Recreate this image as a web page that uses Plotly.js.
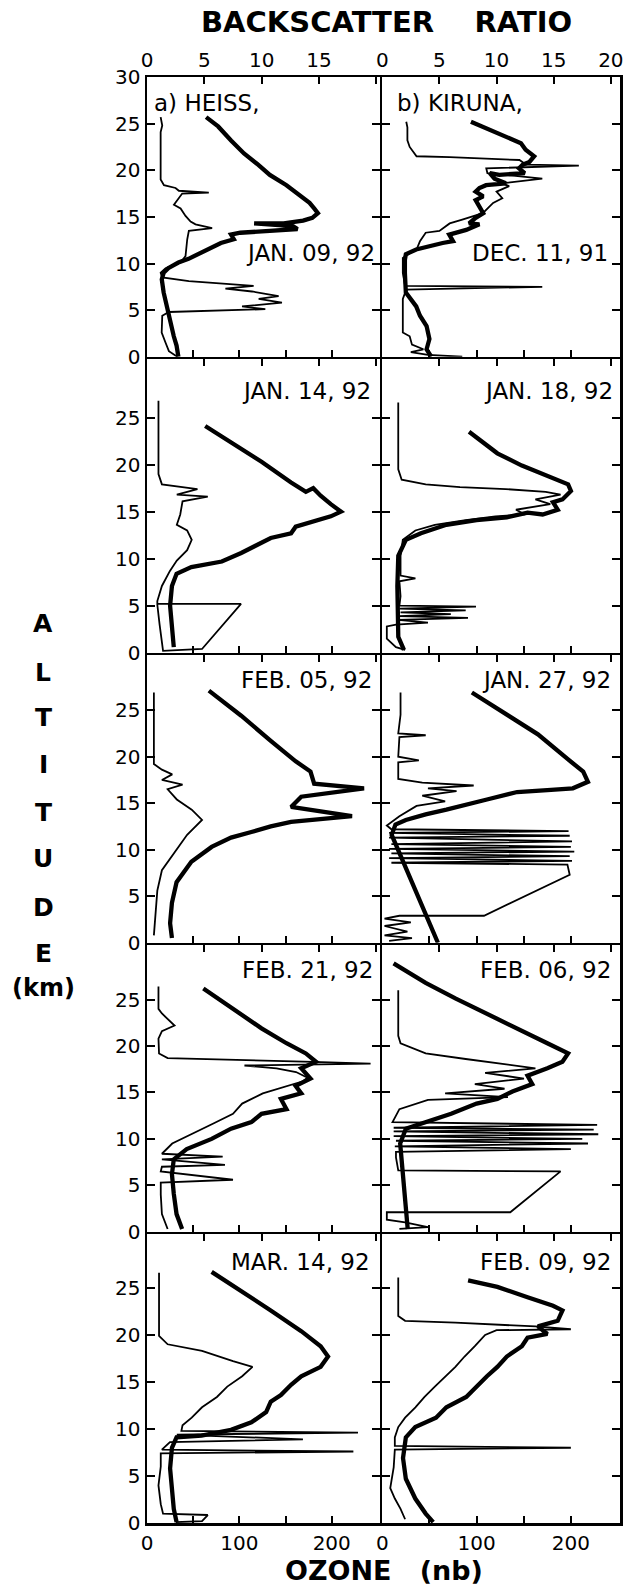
<!DOCTYPE html>
<html><head><meta charset="utf-8">
<script src="https://cdn.plot.ly/plotly-3.0.1.min.js"></script>
<style>html,body{margin:0;padding:0;background:#fff}#chart{width:637px;height:1587px}</style>
</head><body><div id="chart"></div>
<script>
// ---- DATA: [altitude km, value] pairs ----
// Ozone partial pressure (nb) profiles (thick lines)
const heissJan09Ozone = [[25.7,64],[24.7,77],[23.2,91],[21.8,105],[20.7,119],[19.5,133],[18.4,151],[17.4,165],[16.5,176],[15.9,181],[15.4,185],[14.9,179],[14.6,169],[14.3,148],[14.3,116],[14.0,158],[13.7,163],[13.5,133],[13.3,101],[13.1,91],[12.6,94],[12.2,80],[11.7,70],[11.0,55],[10.5,45],[10.1,34],[9.5,23],[9.0,18],[8.3,16],[6.9,18],[5.1,22],[3.7,25],[2.2,29],[1.2,32],[0,34]];
const kirunaDec11Ozone = [[25.2,94],[24.5,110],[23.6,131],[22.9,147],[22.2,152],[21.5,161],[20.9,156],[20.6,149],[20.2,145],[19.7,151],[19.5,124],[19.7,114],[19.1,119],[18.6,131],[18.4,110],[18.1,103],[17.7,99],[17.2,107],[16.8,99],[16.1,103],[15.4,107],[14.9,99],[14.3,92],[14.2,103],[13.6,89],[13.1,71],[12.4,75],[12.2,64],[11.9,50],[11.5,36],[11.0,25],[10.4,24],[9.0,24],[6.9,25],[5.4,36],[4.4,40],[3.3,47],[1.9,50],[0.8,47],[0,52]];
const heissJan14Ozone = [[24.1,63],[22.3,91],[20.3,124],[18.1,156],[17.1,172],[17.5,180],[16.7,188],[15.8,199],[15.0,210],[14.5,199],[13.8,177],[13.4,161],[12.7,156],[12.2,134],[11.4,118],[10.6,102],[9.7,81],[9.1,48],[8.4,32],[7.1,27],[5.0,25],[2.8,27],[0.6,29]];
const kirunaJan18Ozone = [[23.5,92],[21.2,122],[19.9,148],[19.0,170],[18.4,186],[17.9,197],[17.2,200],[16.3,191],[16.0,181],[15.2,186],[14.7,170],[14.9,154],[14.4,132],[14.1,100],[13.6,68],[12.7,41],[12.0,25],[10.3,17],[7.1,16],[3.9,16],[1.7,17],[0.3,23]];
const heissFeb05Ozone = [[27.1,67],[24.4,102],[21.7,134],[19.5,161],[18.4,177],[17.1,181],[16.6,235],[15.7,167],[14.6,156],[13.6,222],[13.0,156],[12.5,134],[11.9,113],[11.3,91],[10.3,70],[8.7,48],[6.5,32],[4.3,27],[2.1,25],[0.5,27]];
const kirunaJan27Ozone = [[26.9,95],[24.5,132],[22.4,165],[19.7,197],[18.4,213],[17.3,218],[16.6,202],[16.4,175],[16.2,143],[15.4,111],[14.8,89],[14.3,68],[13.8,46],[13.2,25],[12.7,14],[11.6,10],[0,59]];
const heissFeb21Ozone = [[26.2,61],[24.1,91],[21.9,124],[20.3,151],[19.2,172],[18.3,183],[17.6,167],[16.5,177],[15.7,161],[14.9,167],[14.3,145],[13.2,151],[12.7,124],[11.8,113],[11.1,91],[10.0,70],[8.9,43],[7.8,29],[6.2,27],[4.1,29],[1.9,32],[0.3,38]];
const kirunaFeb06Ozone = [[28.9,12],[26.8,46],[25.1,78],[23.5,111],[21.9,143],[20.3,175],[19.2,197],[18.3,191],[17.6,175],[16.8,154],[15.9,159],[15.1,138],[14.3,122],[13.8,100],[12.7,73],[11.8,46],[11.1,25],[9.5,19],[6.2,22],[3.0,25],[0.3,27]];
const heissMar14Ozone = [[26.7,70],[24.7,102],[22.6,134],[20.4,167],[18.8,188],[17.7,196],[16.6,188],[15.6,167],[14.7,156],[13.6,145],[12.9,134],[11.8,129],[10.7,113],[9.9,91],[9.3,59],[9.1,32],[8.0,27],[5.8,25],[3.7,27],[1.5,29],[0.1,32]];
const kirunaFeb09Ozone = [[25.8,91],[25.1,122],[24.0,154],[23.1,181],[22.6,191],[21.5,186],[20.9,165],[20.1,175],[19.7,154],[18.8,148],[17.7,132],[16.6,122],[15.6,111],[14.5,100],[13.4,89],[12.3,68],[11.2,57],[10.2,35],[9.1,25],[6.9,22],[4.7,25],[2.6,35],[1.0,46],[0.1,54]];

// Backscatter ratio profiles (thin lines)
const heissJan09Bsr = [[25.7,1.19],[24.8,1.33],[24.1,1.19],[19.0,1.19],[18.4,1.48],[18.1,2.49],[17.8,2.78],[17.6,5.39],[17.5,3.07],[16.7,2.64],[16.3,2.35],[15.9,2.93],[15.1,3.36],[14.5,3.8],[14.2,4.23],[13.8,5.68],[13.5,3.65],[12.6,3.51],[10.8,3.36],[10.1,2.93],[9.5,1.62],[9.0,1.19],[8.5,1.33],[8.1,3.65],[7.6,9.3],[7.3,6.84],[7.0,9.16],[6.5,11.48],[6.2,9.74],[5.8,11.77],[5.4,8.29],[5.1,10.32],[4.8,1.91],[4.4,1.33],[2.6,1.28],[1.5,1.62],[0.6,1.91],[0,2.64]];
const kirunaDec11Bsr = [[25.2,2.1],[24.6,2.2],[23.2,2.2],[22.5,2.4],[21.5,3.0],[21.4,5.9],[21.1,12.0],[20.6,12.6],[20.5,17.2],[20.3,12.3],[20.2,9.1],[19.7,9.2],[19.3,12.6],[19.1,14.0],[18.6,10.5],[18.3,11.1],[17.7,10.0],[17.0,10.5],[16.5,9.7],[15.4,8.8],[14.7,7.0],[14.3,5.9],[13.5,5.0],[13.3,3.8],[12.4,3.3],[11.5,3.0],[11.1,2.4],[10.6,1.8],[9.0,1.8],[7.6,2.0],[7.5,14.0],[7.2,2.1],[6.2,1.8],[2.6,1.8],[2.2,2.4],[1.3,2.6],[0.8,3.6],[0.5,2.5],[0.2,4.0],[0,7.0]];
const heissJan14Bsr = [[26.8,1.0],[19.0,1.0],[17.9,1.3],[17.4,4.4],[16.8,2.6],[16.6,5.3],[16.1,3.1],[14.7,2.9],[13.6,2.6],[13.0,3.5],[12.0,3.9],[10.9,3.5],[9.8,2.6],[8.7,2.0],[7.1,1.3],[5.5,0.9],[5.2,0.9],[5.2,8.2],[0.4,4.8],[0.2,1.4],[3.0,1.1],[5.1,0.9]];
const kirunaJan18Bsr = [[26.6,1.4],[19.5,1.4],[18.4,1.7],[17.9,3.8],[17.6,6.8],[17.4,10.8],[17.1,14.3],[16.8,15.6],[16.3,13.4],[15.8,14.7],[15.2,11.7],[14.7,12.5],[14.5,9.9],[14.1,7.3],[13.6,4.6],[13.0,2.9],[12.0,1.8],[10.3,1.6],[8.2,1.6],[7.9,2.9],[7.6,1.5],[6.0,1.6],[5.0,1.5],[4.9,8.2],[4.7,1.5],[4.5,7.3],[4.3,1.6],[4.1,6.0],[3.9,1.5],[3.7,7.5],[3.5,1.4],[3.2,4.0],[3.0,1.2],[2.8,0.4],[1.5,0.4],[0.6,1.2],[0.3,2.0]];
const heissFeb05Bsr = [[26.9,0.6],[19.2,0.6],[18.6,1.3],[18.1,2.2],[17.5,1.3],[17.0,3.1],[16.5,1.8],[15.4,2.6],[14.3,3.9],[13.2,4.8],[11.6,3.5],[10.0,2.6],[7.8,1.3],[5.6,0.9],[0.8,0.6]];
const kirunaJan27Bsr = [[26.9,1.6],[24.5,1.6],[22.5,1.4],[22.3,3.8],[22.1,1.5],[20.0,1.4],[19.6,3.2],[19.4,1.4],[17.6,1.4],[17.2,3.5],[16.9,8.0],[16.6,4.0],[16.3,6.5],[15.8,3.5],[15.2,5.5],[14.7,3.0],[13.6,1.5],[12.6,0.4],[12.2,0.8],[12.0,16.3],[11.8,0.6],[11.5,16.4],[11.3,0.6],[10.9,16.6],[10.6,0.8],[10.3,16.5],[10.1,0.6],[9.8,16.8],[9.6,0.8],[9.3,16.4],[9.1,0.6],[8.8,16.6],[8.6,0.8],[8.4,16.2],[7.3,16.4],[2.9,8.9],[2.9,1.5],[2.6,0.2],[2.2,2.5],[1.8,0.2],[1.2,2.2],[0.8,0.2],[0.5,2.6],[0.2,0.6]];
const heissFeb21Bsr = [[26.4,1.0],[24.0,1.0],[23.5,1.3],[22.2,2.4],[21.6,1.3],[20.8,1.0],[19.2,1.05],[18.7,1.8],[18.3,14.5],[18.1,19.5],[17.9,8.5],[17.6,11.3],[17.2,13.0],[16.6,14.0],[16.2,13.6],[14.9,10.1],[13.8,8.3],[12.7,7.5],[11.6,5.7],[10.5,3.9],[9.5,2.2],[8.4,1.3],[8.1,6.6],[7.8,1.3],[7.2,6.8],[7.0,1.3],[6.5,1.2],[5.6,7.5],[5.3,1.2],[4.0,1.2],[1.9,1.3],[0.3,1.8]];
const kirunaFeb06Bsr = [[26.0,1.4],[21.1,1.4],[20.3,1.6],[19.2,3.8],[18.6,7.3],[18.0,10.8],[17.6,13.4],[17.1,9.0],[16.5,12.4],[15.9,8.1],[15.4,10.7],[14.9,5.5],[14.5,11.0],[14.2,4.0],[13.2,1.5],[11.8,0.9],[11.5,18.8],[11.2,1.0],[11.0,18.5],[10.8,1.0],[10.5,18.9],[10.3,1.0],[10.0,17.5],[9.8,1.2],[9.5,18.0],[9.2,1.1],[8.9,16.5],[8.6,1.2],[8.0,1.2],[6.6,1.4],[6.5,15.6],[2.1,11.2],[2.1,0.4],[1.3,0.4],[1.0,2.0],[0.5,4.0],[0.3,1.5]];
const heissMar14Bsr = [[26.6,1.05],[19.9,1.05],[19.0,1.8],[18.3,4.8],[17.2,7.5],[16.6,9.2],[15.6,8.3],[14.5,7.0],[13.4,6.1],[12.3,4.8],[11.2,3.9],[10.4,3.1],[9.8,3.0],[9.6,18.4],[9.4,2.6],[8.9,13.6],[8.6,2.0],[7.8,1.3],[7.6,18.0],[7.4,1.2],[6.0,1.2],[4.0,1.0],[2.0,1.2],[1.0,1.4],[0.85,5.3],[0.2,4.8],[0.1,2.5]];
const kirunaFeb09Bsr = [[26.1,1.4],[22.0,1.4],[21.5,2.0],[21.3,6.4],[20.9,13.4],[20.6,16.5],[20.5,10],[20.0,9.0],[18.8,8.1],[17.7,7.2],[16.6,6.4],[15.6,5.5],[14.5,4.6],[13.4,3.7],[12.3,2.9],[11.2,2.0],[10.2,1.4],[9.1,1.1],[8.2,1.1],[8.0,16.5],[7.8,1.1],[5.9,1.0],[3.7,0.7],[2.6,1.1],[1.5,1.6],[0.4,2.0]];

const stationLabels = ['a) HEISS,', 'b) KIRUNA,'];
const dateLabels = [
  ['JAN. 09, 92', 'DEC. 11, 91'],
  ['JAN. 14, 92', 'JAN. 18, 92'],
  ['FEB. 05, 92', 'JAN. 27, 92'],
  ['FEB. 21, 92', 'FEB. 06, 92'],
  ['MAR. 14, 92', 'FEB. 09, 92']
];
const ozoneTickVals = [0, 50, 100, 150, 200];
const ozoneTickText = ['0', '', '100', '', '200'];
const bsrTickVals = [0, 5, 10, 15, 20];
const bsrTickText = [['0', '5', '10', '15', ''], ['0', '5', '10', '15', '20']];
const altTickValsTop = [0, 5, 10, 15, 20, 25, 30];
const altTickVals = [0, 5, 10, 15, 20, 25];

const panels = [
  [{oz: heissJan09Ozone, bsr: heissJan09Bsr}, {oz: kirunaDec11Ozone, bsr: kirunaDec11Bsr}],
  [{oz: heissJan14Ozone, bsr: heissJan14Bsr}, {oz: kirunaJan18Ozone, bsr: kirunaJan18Bsr}],
  [{oz: heissFeb05Ozone, bsr: heissFeb05Bsr}, {oz: kirunaJan27Ozone, bsr: kirunaJan27Bsr}],
  [{oz: heissFeb21Ozone, bsr: heissFeb21Bsr}, {oz: kirunaFeb06Ozone, bsr: kirunaFeb06Bsr}],
  [{oz: heissMar14Ozone, bsr: heissMar14Bsr}, {oz: kirunaFeb09Ozone, bsr: kirunaFeb09Bsr}]
];

// ---- LAYOUT ----
const W = 637, H = 1587;
const LW = 2.5;
const rowsPx = [[77,358],[358,654],[654,944],[944,1233],[1233,1523]];
const yTop = [30, 31.2, 30.9, 30.85, 30.7];
const colsPx = [[147,381],[381,620]];
const ozRange = [0, 252];
const bsrRanges = [[0, 20.3], [0, 20.8]];
const px = p => p / W, py = p => 1 - p / H;
const FONT = 'DejaVu Sans, Arial, sans-serif';

const traces = [];
const layout = {
  width: W, height: H, margin: {l:0, r:0, t:0, b:0}, showlegend: false,
  paper_bgcolor: '#fff', plot_bgcolor: 'rgba(0,0,0,0)',
  font: {family: FONT, color: '#000', size: 20},
  annotations: []
};
const axisCommon = {showline: true, linewidth: LW, linecolor: '#000', ticks: 'inside', tickwidth: 2,
  tickcolor: '#000', showgrid: false, zeroline: false, fixedrange: true,
  tickfont: {family: FONT, size: 20, color: '#000'}};

for (let r = 0; r < 5; r++) {
  for (let c = 0; c < 2; c++) {
    const i = r * 2 + c + 1, j = i + 10;
    const xi = i === 1 ? '' : String(i);
    const p = panels[r][c];
    // shared borders: leave a gap of one line width so the two outward-drawn lines coincide
    const x0 = colsPx[c][0] + (c === 1 ? LW / 2 : 0);
    const x1 = colsPx[c][1] - (c === 0 ? LW / 2 : 0);
    const yT = rowsPx[r][0] + (r > 0 ? LW / 2 : 0);
    const yB = rowsPx[r][1] - (r < 4 ? LW / 2 : 0);
    traces.push({type: 'scatter', mode: 'lines', x: p.bsr.map(d => d[1]), y: p.bsr.map(d => d[0]),
      xaxis: 'x' + j, yaxis: 'y' + xi, line: {color: '#000', width: 1.8}, hoverinfo: 'skip'});
    traces.push({type: 'scatter', mode: 'lines', x: p.oz.map(d => d[1]), y: p.oz.map(d => d[0]),
      xaxis: 'x' + xi, yaxis: 'y' + xi, line: {color: '#000', width: 4.3}, hoverinfo: 'skip'});
    layout['xaxis' + xi] = Object.assign({}, axisCommon, {
      domain: [px(x0), px(x1)], range: ozRange, anchor: 'y' + xi, side: 'bottom',
      ticklen: 7, tickmode: 'array', tickvals: ozoneTickVals, ticktext: ozoneTickText, showticklabels: r === 4
    });
    layout['xaxis' + j] = Object.assign({}, axisCommon, {
      overlaying: 'x' + xi, range: bsrRanges[c], anchor: 'y' + xi, side: 'top',
      ticklen: 7, tickmode: 'array', tickvals: bsrTickVals, ticktext: bsrTickText[c], showticklabels: r === 0
    });
    layout['yaxis' + xi] = Object.assign({}, axisCommon, {
      domain: [py(yB), py(yT)], range: [0, yTop[r]], anchor: 'x' + xi,
      mirror: 'ticks', ticklen: 8, tickmode: 'array',
      tickvals: r === 0 ? altTickValsTop : altTickVals, showticklabels: c === 0
    });
  }
}

// date labels
const datePos = [[[377,253],[610,253]],[[373,391],[615,391]],[[374,680],[613,680]],[[375,970],[613,970]],[[372,1262],[613,1262]]];
for (let r = 0; r < 5; r++) for (let c = 0; c < 2; c++) {
  layout.annotations.push({xref: 'paper', yref: 'paper', x: px(datePos[r][c][0]), y: py(datePos[r][c][1]),
    xanchor: 'right', yanchor: 'middle', showarrow: false, text: dateLabels[r][c],
    font: {family: FONT, size: 23, color: '#000'}});
}
// station labels
[[152,103],[395,103]].forEach((pos, c) => layout.annotations.push({xref: 'paper', yref: 'paper',
  x: px(pos[0]), y: py(pos[1]), xanchor: 'left', yanchor: 'middle', showarrow: false, text: stationLabels[c],
  font: {family: FONT, size: 23, color: '#000'}}));
// titles
layout.annotations.push({xref: 'paper', yref: 'paper', x: px(386), y: py(22), xanchor: 'center', yanchor: 'middle',
  showarrow: false, text: 'BACKSCATTER\u00a0\u00a0\u00a0\u00a0RATIO', font: {family: FONT, size: 29, color: '#000', weight: 'bold'}});
layout.annotations.push({xref: 'paper', yref: 'paper', x: px(384), y: py(1570), xanchor: 'center', yanchor: 'middle',
  showarrow: false, text: 'OZONE\u00a0\u00a0\u00a0(nb)', font: {family: FONT, size: 27, color: '#000', weight: 'bold'}});
const altLetters = 'ALTITUDE'.split('');
const altLetterY = [623, 672, 718, 765, 812, 858, 907, 953];
altLetters.forEach((ch, k) => layout.annotations.push({xref: 'paper', yref: 'paper', x: px(43), y: py(altLetterY[k]),
  xanchor: 'center', yanchor: 'middle', showarrow: false, text: ch, font: {family: FONT, size: 25, color: '#000', weight: 'bold'}}));
layout.annotations.push({xref: 'paper', yref: 'paper', x: px(43), y: py(988), xanchor: 'center', yanchor: 'middle',
  showarrow: false, text: '(km)', font: {family: FONT, size: 24, color: '#000', weight: 'bold'}});

Plotly.newPlot('chart', traces, layout, {staticPlot: true, displayModeBar: false});
</script>
</body></html>
